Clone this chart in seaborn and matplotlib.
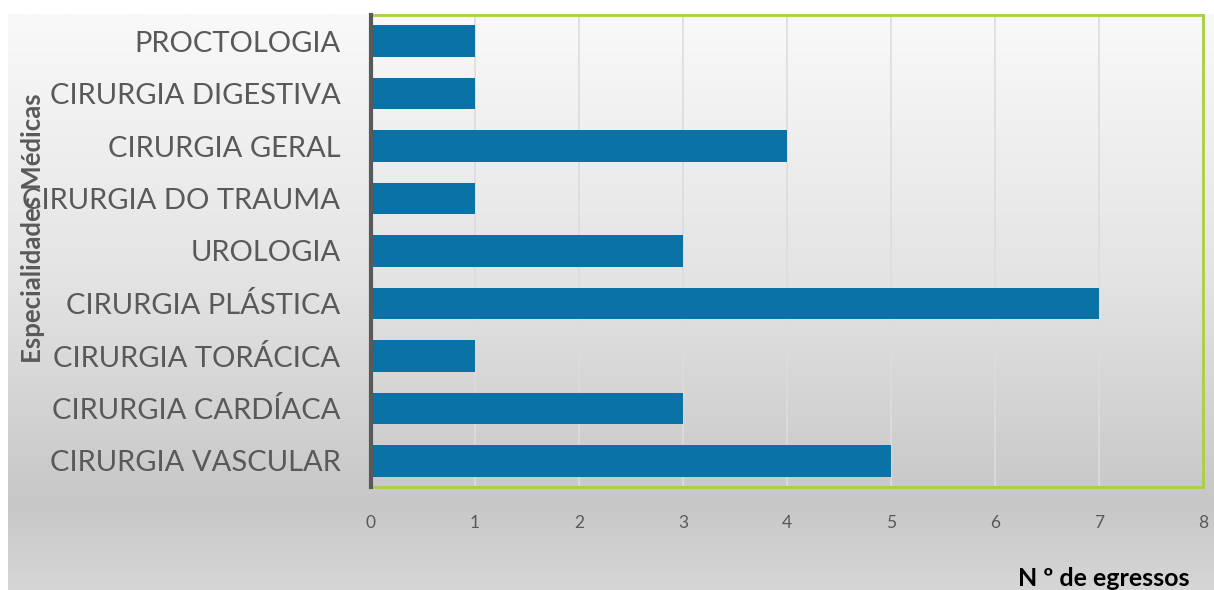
import numpy as np
import matplotlib
matplotlib.use("Agg")
import matplotlib.pyplot as plt
import seaborn as sns
from matplotlib.colors import LinearSegmentedColormap

categories = ["PROCTOLOGIA", "CIRURGIA DIGESTIVA", "CIRURGIA GERAL", "CIRURGIA DO TRAUMA",
              "UROLOGIA", "CIRURGIA PLÁSTICA", "CIRURGIA TORÁCICA", "CIRURGIA CARDÍACA",
              "CIRURGIA VASCULAR"]
values = [1, 1, 4, 1, 3, 7, 1, 3, 5]
xticks = [0, 1, 2, 3, 4, 5, 6, 7, 8]

sns.set_theme(style="white")
plt.rcParams['font.family'] = ['Lato', 'DejaVu Sans']

W, H = 1214, 590
fig = plt.figure(figsize=(W / 100, H / 100), dpi=100)
fig.patch.set_facecolor("white")

# gradient background panel
bg = fig.add_axes([8 / W, 0, 1 - 8 / W, (H - 14) / H], zorder=0)
cmap = LinearSegmentedColormap.from_list(
    "g", [(0.0, "#f9f9f9"), (0.45, "#e4e4e4"), (0.85, "#c7c7c7"), (1.0, "#d6d6d6")])
grad = np.linspace(0, 1, 256).reshape(-1, 1)
bg.imshow(grad, aspect="auto", cmap=cmap, extent=[0, 1, 1, 0])
bg.set_axis_off()

ax = fig.add_axes([371 / W, (H - 487) / H, (1203 - 371) / W, (487 - 15) / H], zorder=1)
ax.set_facecolor("none")
sns.barplot(x=values, y=categories, orient="h", color="#0a72a6", saturation=1,
            width=0.6, ax=ax, zorder=3, edgecolor="none", linewidth=0)
ax.set_xlim(0, 8)
ax.set_xticks(xticks)
ax.set_xticklabels([str(t) for t in xticks])
ax.grid(axis="x", color="#dcdcdc", linewidth=1.2, zorder=0)
ax.set_axisbelow(True)
ax.tick_params(axis="y", length=0, width=0, pad=22, labelsize=21, labelcolor="#595959")
ax.tick_params(axis="x", length=0, width=0, pad=20, labelsize=12.5, labelcolor="#595959")
for s in ["top", "right", "bottom"]:
    ax.spines[s].set_color("#a9d13c")
    ax.spines[s].set_linewidth(2)
ax.spines["left"].set_color("#595959")
ax.spines["left"].set_linewidth(3)
ax.spines["left"].set_zorder(5)
ax.set_xlabel("")
ax.set_ylabel("")

fig.text(33 / W, 1 - 228 / H, "Especialidades Médicas", rotation=90, ha="center", va="center",
         fontsize=18.5, fontweight="bold", color="#595959")
fig.text(1190 / W, 1 - 578 / H, "N º de egressos", ha="right", va="center",
         fontsize=18, fontweight="bold", color="#000000")

fig.savefig("out.png", dpi=100)
